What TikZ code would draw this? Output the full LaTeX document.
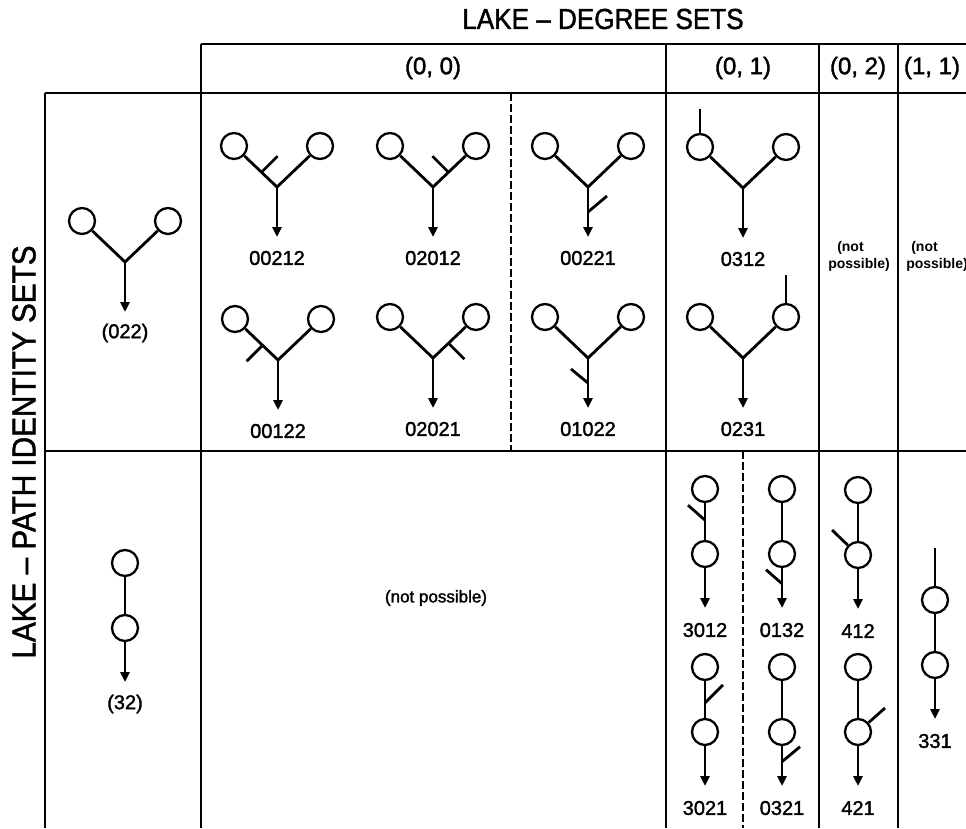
\documentclass[tikz,border=0pt]{standalone}
\usepackage{fontspec}
\setmainfont{Liberation Sans}
\newfontfamily\hdfont[FakeStretch=0.9,FakeBold=1.4]{Liberation Sans}
\newfontfamily\medfont[FakeBold=1.6]{Liberation Sans}
\usetikzlibrary{arrows.meta,calc}
\tikzset{
  rule/.style={line width=2.8pt},
  dashrule/.style={line width=1.5pt, dash pattern=on 8pt off 3pt},
  lake/.style={circle, draw, line width=2.3pt, minimum size=26pt, inner sep=0pt},
  stem/.style={line width=2.8pt},
  arr/.style={line width=2.6pt, -{Triangle[length=10pt,width=9pt]}},
  lab/.style={font=\medfont\fontsize{20}{20}\selectfont, inner sep=0pt},
  hdr/.style={font=\medfont\fontsize{24}{24}\selectfont, inner sep=0pt},
  big/.style={font=\hdfont\fontsize{29}{29}\selectfont, inner sep=0pt},
  bigside/.style={font=\hdfont\fontsize{33}{33}\selectfont, inner sep=0pt},
  np/.style={font=\bfseries\fontsize{14}{17}\selectfont, inner sep=0pt, align=left},
  npbig/.style={font=\medfont\fontsize{17}{17}\selectfont, inner sep=0pt}
}
% Y-shaped glyph: name, junction x, junction y, label
\newcommand{\mkY}[4]{%
  \coordinate (#1j) at (#2,#3);
  \node[lake] (#1l) at ($(#1j)+(-43,-41)$) {};
  \node[lake] (#1r) at ($(#1j)+(43,-41)$) {};
  \coordinate (#1t) at ($(#1j)+(0,50)$);
  \node[lab] (#1n) at ($(#1j)+(0,71)$) {#4};
  \draw[stem] (#1l) -- (#1j) -- (#1r);
  \draw[arr] (#1j) -- (#1t);
}
% vertical chain glyph: name, x, top circle y, label
\newcommand{\mkI}[4]{%
  \node[lake] (#1a) at (#2,#3) {};
  \node[lake] (#1b) at ($(#1a)+(0,65)$) {};
  \coordinate (#1t) at ($(#1a)+(0,119)$);
  \node[lab] (#1n) at ($(#1a)+(0,141)$) {#4};
  \draw[stem] (#1a) -- (#1b);
  \draw[arr] (#1b) -- (#1t);
}
\begin{document}
\begin{tikzpicture}[x=1pt,y=-1pt]
\useasboundingbox (0,0) rectangle (966,828);
% titles
\node[big] (title) at (603,19) {LAKE – DEGREE SETS};
\node[bigside, rotate=90] (rowlab) at (24,452) {LAKE – PATH IDENTITY SETS};
% table rules
\draw[rule] (201,44) -- (966,44);
\draw[rule] (45,93) -- (966,93);
\draw[rule] (45,451) -- (966,451);
\draw[rule] (45,93) -- (45,828);
\draw[rule] (201,44) -- (201,828);
\draw[rule] (666,44) -- (666,828);
\draw[rule] (819,44) -- (819,828);
\draw[rule] (898,44) -- (898,828);
\draw[dashrule] (511,93) -- (511,451);
\draw[dashrule] (743,451) -- (743,828);
% header labels
\node[hdr] (h00) at (433,68) {(0, 0)};
\node[hdr] (h01) at (743,68) {(0, 1)};
\node[hdr] (h02) at (858,68) {(0, 2)};
\node[hdr] (h11) at (932,68) {(1, 1)};
% left column
\mkY{y}{125}{262}{(022)}
\mkI{w}{125}{563}{(32)}
% (0,0) top row
\mkY{a}{277}{187}{00212}
\coordinate (ab) at ($(aj)!0.36!(al)$); \coordinate (ae) at ($(ab)+(16,-16)$); \draw[stem] (ab) -- (ae);
\mkY{b}{433}{187}{02012}
\coordinate (bb) at ($(bj)!0.36!(br)$); \coordinate (be) at ($(bb)+(-16,-16)$); \draw[stem] (bb) -- (be);
\mkY{c}{588}{187}{00221}
\coordinate (cb) at ($(cj)!0.5!(ct)$); \coordinate (ce) at ($(cb)+(19,-16)$); \draw[stem] (cb) -- (ce);
\mkY{e}{278}{360}{00122}
\coordinate (eb) at ($(ej)!0.36!(el)$); \coordinate (ee) at ($(eb)+(-16,16)$); \draw[stem] (eb) -- (ee);
\mkY{f}{433}{358}{02021}
\coordinate (fb) at ($(fj)!0.36!(fr)$); \coordinate (fe) at ($(fb)+(16,16)$); \draw[stem] (fb) -- (fe);
\mkY{g}{588}{358}{01022}
\coordinate (gb) at ($(gj)!0.5!(gt)$); \coordinate (ge) at ($(gb)+(-17,-14)$); \draw[stem] (gb) -- (ge);
% (0,1) top row
\mkY{d}{743}{188}{0312}
\coordinate (de) at ($(dl)+(0,-38)$); \draw[stem] (dl) -- (de);
\mkY{h}{743}{358}{0231}
\coordinate (he) at ($(hr)+(0,-42)$); \draw[stem] (hr) -- (he);
% not possible
\node[npbig] (np00) at (436,598) {(not possible)};
\node[np] (np02) at (859,256) {\hspace*{9pt}(not\\possible)};
\node[np] (np11) at (937,256) {\hspace*{5pt}(not\\possible)};
% (0,1) bottom row
\mkI{p}{705}{489}{3012}
\coordinate (pm) at ($(pa)!0.48!(pb)$); \coordinate (pe) at ($(pm)+(-17,-15)$); \draw[stem] (pm) -- (pe);
\mkI{q}{782}{489}{0132}
\coordinate (qm) at ($(qb)!0.55!(qt)$); \coordinate (qe) at ($(qm)+(-16,-14)$); \draw[stem] (qm) -- (qe);
\mkI{s}{705}{667}{3021}
\coordinate (sm) at ($(sa)!0.55!(sb)$); \coordinate (se) at ($(sm)+(18,-18)$); \draw[stem] (sm) -- (se);
\mkI{t}{782}{667}{0321}
\coordinate (tm) at ($(tb)!0.55!(tt)$); \coordinate (te) at ($(tm)+(18,-15)$); \draw[stem] (tm) -- (te);
% (0,2) bottom row
\mkI{r}{858}{490}{412}
\coordinate (re) at ($(rb)+(-26,-25)$); \draw[stem] (rb) -- (re);
\mkI{u}{858}{667}{421}
\coordinate (ue) at ($(ub)+(27,-24)$); \draw[stem] (ub) -- (ue);
% (1,1) bottom row
\mkI{v}{935}{600}{331}
\coordinate (ve) at ($(va)+(0,-52)$); \draw[stem] (va) -- (ve);
\end{tikzpicture}
\end{document}
